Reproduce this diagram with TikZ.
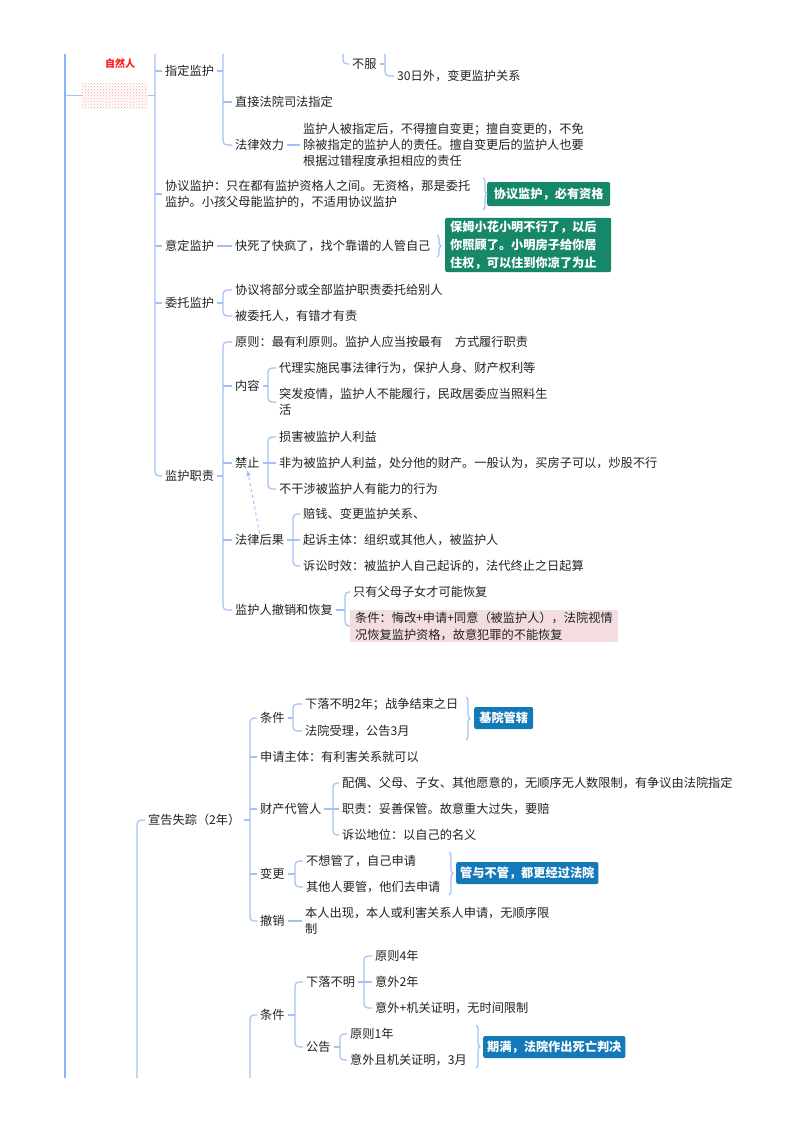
\documentclass[tikz,border=0pt]{standalone}
\usepackage{fontspec}
\setmainfont{Noto Sans CJK SC}
\usetikzlibrary{decorations.pathreplacing,patterns,arrows.meta}
\definecolor{lb}{HTML}{A3C1F6}
\definecolor{rootc}{HTML}{8DB2F8}
\definecolor{txt}{HTML}{222222}
\definecolor{grn}{HTML}{17876A}
\definecolor{blu}{HTML}{1479B8}
\definecolor{pnk}{HTML}{F4DDE1}
\definecolor{redt}{HTML}{FF1A1A}
\definecolor{dotc}{HTML}{F7A99A}
\newcommand\fs{\fontsize{12.2}{16}\selectfont}
\newcommand\bfs{\fontsize{12.2}{18}\selectfont\bfseries}
\begin{document}
\begin{tikzpicture}[x=1pt,y=-1pt,
  t/.style={anchor=west, inner xsep=3, inner ysep=1, font=\fs, text=txt, align=left},
  conn/.style={draw=lb, line width=1.2, rounded corners=4},
  rootline/.style={draw=rootc, line width=2},
  brc/.style={draw=lb, line width=1.2, decorate, decoration={brace, amplitude=4}},
  gbox/.style={fill=grn, text=white, font=\bfs, rounded corners=2, inner xsep=5, inner ysep=3, anchor=west, align=left},
  bbox/.style={fill=blu, text=white, font=\bfs, rounded corners=2, inner xsep=4, inner ysep=3, anchor=west, align=center, minimum height=22},
  pbox/.style={fill=pnk, text=txt, font=\fontsize{12.2}{17}\selectfont, inner xsep=5, inner ysep=2, anchor=west, align=left},
  dasharr/.style={draw=lb, line width=1, dashed, -{Latex[length=6,width=5]}}]
\useasboundingbox (0,0) rectangle (800,1132);
\fill[white] (0,0) rectangle (800,1132);

% bracket x positions
\coordinate (bA) at (223,0);
\coordinate (bL1) at (155,0);
\coordinate (bB) at (268,0);
\coordinate (bC) at (293,0);
\coordinate (bD) at (345,0);
\coordinate (bE) at (250,0);
\coordinate (bF) at (293,0);
\coordinate (bG) at (333,0);
\coordinate (bH) at (295,0);
\coordinate (bI) at (364,0);
\coordinate (bJ) at (340,0);
\coordinate (bK) at (385,0);

% ---------------- upper part ----------------
\node[font=\fontsize{10}{12}\selectfont\bfseries, text=redt] (zr) at (120,64) {自然人};
\node[pattern=crosshatch dots, pattern color=dotc, minimum width=66, minimum height=25, inner sep=0] (hid) at (115,95.5) {};

\node[t] (bf) at (349,64) {不服};
\node[t] (d30) at (394,76) {30日外，变更监护关系};
\node[t] (zd) at (162,71) {指定监护};
\node[t] (zj) at (232,102) {直接法院司法指定};
\node[t] (fl) at (232,145) {法律效力};
\node[t] (flt) at (300,145) {监护人被指定后，不得擅自变更；擅自变更的，不免\\除被指定的监护人的责任。擅自变更后的监护人也要\\根据过错程度承担相应的责任};
\node[t] (xy) at (162,194) {协议监护：只在都有监护资格人之间。无资格，那是委托\\监护。小孩父母能监护的，不适用协议监护};
\node[gbox, minimum width=123, minimum height=24] (gx) at (487,194) {协议监护，必有资格};
\node[t] (yd) at (162,246) {意定监护};
\node[t] (ks) at (232,246) {快死了快疯了，找个靠谱的人管自己};
\node[gbox, text width=156, minimum height=54] (gy) at (445,245) {保姆小花小明不行了，以后\\你照顾了。小明房子给你居\\住权，可以住到你凉了为止};
\node[t] (wt) at (162,303) {委托监护};
\node[t] (wt1) at (232,290) {协议将部分或全部监护职责委托给别人};
\node[t] (wt2) at (232,316) {被委托人，有错才有责};
\node[t] (jz) at (162,476) {监护职责};
\node[t] (yz) at (232,342) {原则：最有利原则。监护人应当按最有\quad 方式履行职责};
\node[t] (nr) at (232,386) {内容};
\node[t] (nr1) at (276,368) {代理实施民事法律行为，保护人身、财产权利等};
\node[t] (nr2) at (276,402) {突发疫情，监护人不能履行，民政居委应当照料生\\活};
\node[t] (jzh) at (232,463) {禁止};
\node[t] (j1) at (276,437) {损害被监护人利益};
\node[t] (j2) at (276,463) {非为被监护人利益，处分他的财产。一般认为，买房子可以，炒股不行};
\node[t] (j3) at (276,489) {不干涉被监护人有能力的行为};
\node[t] (flh) at (232,540) {法律后果};
\node[t] (h1) at (300,514) {赔钱、变更监护关系、};
\node[t] (h2) at (300,540) {起诉主体：组织或其他人，被监护人};
\node[t] (h3) at (300,566) {诉讼时效：被监护人自己起诉的，法代终止之日起算};
\node[t] (cx) at (232,610) {监护人撤销和恢复};
\node[t] (c1) at (350,592) {只有父母子女才可能恢复};
\node[pbox, text width=258] (c2) at (350,626) {条件：悔改+申请+同意（被监护人），法院视情\\况恢复监护资格，故意犯罪的不能恢复};

% connectors upper
\draw[rootline] (65,54) -- (65,1078);
\draw[conn] (65,95.5) -- (hid.west);
\draw[conn] (hid.east) -- (hid.east -| bL1);
\draw[conn] (155,54) |- (jz.west);
\draw[conn] (zd.west -| bL1) -- (zd.west);
\draw[conn] (xy.west -| bL1) -- (xy.west);
\draw[conn] (yd.west -| bL1) -- (yd.west);
\draw[conn] (wt.west -| bL1) -- (wt.west);

\draw[conn] (343,54) |- (bf.west);
\draw[conn] (bf.east) -- (bf.east -| bK);
\draw[conn] (385,54) |- (d30.west);

\draw[conn] (zd.east) -- (zd.east -| bA);
\draw[conn] (223,54) |- (fl.west);
\draw[conn] (zj.west -| bA) -- (zj.west);
\draw[conn] (fl.east) -- (flt.west);

\draw[brc] (483,178) -- (483,210);
\draw[conn] (yd.east) -- (ks.west);
\draw[brc] (437,235) -- (437,257);

\draw[conn] (wt.east) -- (wt.east -| bA);
\draw[conn] (wt1.west) -| (wt2.west -| bA) -- (wt2.west);

\draw[conn] (jz.east) -- (jz.east -| bA);
\draw[conn] (yz.west) -| (cx.west -| bA) -- (cx.west);
\draw[conn] (nr.west -| bA) -- (nr.west);
\draw[conn] (jzh.west -| bA) -- (jzh.west);
\draw[conn] (flh.west -| bA) -- (flh.west);

\draw[conn] (nr.east) -- (nr.east -| bB);
\draw[conn] (nr1.west) -| (nr2.west -| bB) -- (nr2.west);
\draw[conn] (jzh.east) -- (jzh.east -| bB);
\draw[conn] (j1.west) -| (j3.west -| bB) -- (j3.west);
\draw[conn] (j2.west -| bB) -- (j2.west);

\draw[conn] (flh.east) -- (flh.east -| bC);
\draw[conn] (h1.west) -| (h3.west -| bC) -- (h3.west);
\draw[conn] (h2.west -| bC) -- (h2.west);
\draw[dasharr] (flh.north) -- (jzh.south);

\draw[conn] (cx.east) -- (cx.east -| bD);
\draw[conn] (c1.west) -| (c2.west -| bD) -- (c2.west);

% ---------------- lower part ----------------
\node[t] (xg) at (145,820) {宣告失踪（2年）};
\node[t] (tj) at (257,718) {条件};
\node[t] (t1) at (302,704) {下落不明2年；战争结束之日};
\node[t] (t2) at (302,731) {法院受理，公告3月};
\node[bbox, minimum width=59] (b1) at (474,718) {基院管辖};
\node[t] (sq) at (257,757) {申请主体：有利害关系就可以};
\node[t] (cc) at (257,809) {财产代管人};
\node[t] (cc1) at (339,783) {配偶、父母、子女、其他愿意的，无顺序无人数限制，有争议由法院指定};
\node[t] (cc2) at (339,809) {职责：妥善保管。故意重大过失，要赔};
\node[t] (cc3) at (339,835) {诉讼地位：以自己的名义};
\node[t] (bg) at (257,874) {变更};
\node[t] (bg1) at (303,861) {不想管了，自己申请};
\node[t] (bg2) at (303,887) {其他人要管，他们去申请};
\node[bbox, minimum width=141] (b2) at (456,873) {管与不管，都更经过法院};
\node[t] (cs) at (257,921) {撤销};
\node[t] (cst) at (302,921) {本人出现，本人或利害关系人申请，无顺序限\\制};
\node[t] (tj2) at (257,1015) {条件};
\node[t] (xl) at (303,982) {下落不明};
\node[t] (x1) at (372,956) {原则4年};
\node[t] (x2) at (372,982) {意外2年};
\node[t] (x3) at (372,1008) {意外+机关证明，无时间限制};
\node[t] (gg) at (303,1047) {公告};
\node[t] (g1) at (347,1034) {原则1年};
\node[t] (g2) at (347,1060) {意外且机关证明，3月};
\node[bbox, minimum width=142] (b3) at (483,1047) {期满，法院作出死亡判决};

% connectors lower
\draw[conn] (xg.west) -| (137,1078);
\draw[conn] (xg.east) -- (xg.east -| bE);
\draw[conn] (tj.west) -| (cs.west -| bE) -- (cs.west);
\draw[conn] (sq.west -| bE) -- (sq.west);
\draw[conn] (cc.west -| bE) -- (cc.west);
\draw[conn] (bg.west -| bE) -- (bg.west);

\draw[conn] (tj.east) -- (tj.east -| bF);
\draw[conn] (t1.west) -| (t2.west -| bF) -- (t2.west);
\draw[brc] (466,697) -- (466,740);

\draw[conn] (cc.east) -- (cc.east -| bG);
\draw[conn] (cc1.west) -| (cc3.west -| bG) -- (cc3.west);
\draw[conn] (cc2.west -| bG) -- (cc2.west);

\draw[conn] (bg.east) -- (bg.east -| bH);
\draw[conn] (bg1.west) -| (bg2.west -| bH) -- (bg2.west);
\draw[brc] (449,852) -- (449,895);

\draw[conn] (cs.east) -- (cst.west);

\draw[conn] (tj2.west) -| (250,1078);
\draw[conn] (tj2.east) -- (tj2.east -| bH);
\draw[conn] (xl.west) -| (gg.west -| bH) -- (gg.west);

\draw[conn] (xl.east) -- (xl.east -| bI);
\draw[conn] (x1.west) -| (x3.west -| bI) -- (x3.west);
\draw[conn] (x2.west -| bI) -- (x2.west);

\draw[conn] (gg.east) -- (gg.east -| bJ);
\draw[conn] (g1.west) -| (g2.west -| bJ) -- (g2.west);
\draw[brc] (476,1025) -- (476,1068);
\end{tikzpicture}
\end{document}
